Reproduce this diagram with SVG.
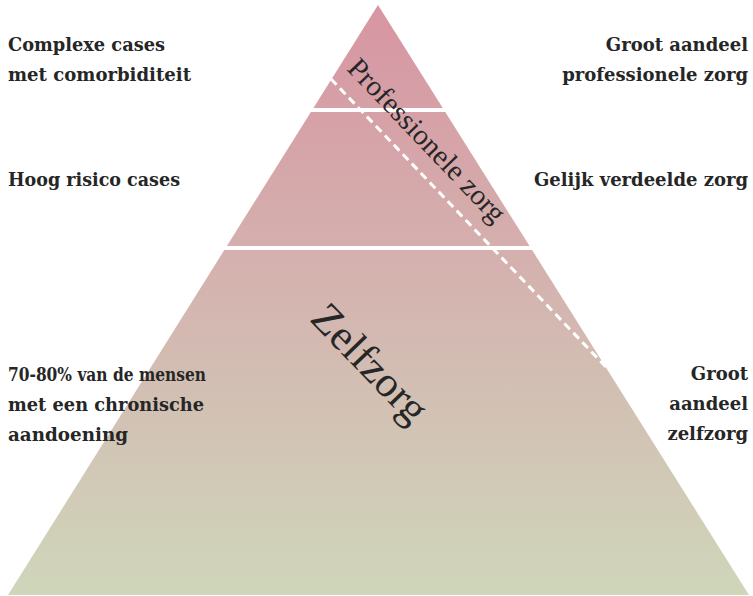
<svg xmlns="http://www.w3.org/2000/svg" width="753" height="596" viewBox="0 0 753 596">
  <defs>
    <linearGradient id="pyr" x1="0" y1="5" x2="0" y2="595" gradientUnits="userSpaceOnUse">
      <stop offset="0" stop-color="#d795a2"/>
      <stop offset="0.5" stop-color="#d4b5b0"/>
      <stop offset="1" stop-color="#cfd6ba"/>
    </linearGradient>
  </defs>
  <style>
    .lbl { font-family: "DejaVu Serif", "Liberation Serif", serif; font-weight: bold; font-size: 18px; fill: #262626; }
    .r { text-anchor: end; }
    .big { font-family: "Liberation Serif", "Times New Roman", serif; fill: #262626; }
    .band { stroke: #ffffff; stroke-width: 4; }
    .dash { stroke: #ffffff; stroke-width: 3; stroke-dasharray: 8 5; fill: none; }
  </style>
  <g id="pyramid">
    <polygon points="378,5 749,595 8,595" fill="url(#pyr)"/>
  </g>
  <g id="connectors">
    <line class="band" x1="300" y1="110" x2="460" y2="110"/>
    <line class="band" x1="220" y1="248" x2="540" y2="248"/>
    <line class="dash" x1="331" y1="79" x2="606" y2="367"/>
  </g>
  <g id="professionele-zorg">
    <text class="big" font-size="29" transform="translate(420,147) rotate(46.3)" text-anchor="middle">Professionele zorg</text>
  </g>
  <g id="zelfzorg">
    <text class="big" font-size="43" transform="translate(360,373) rotate(46)" text-anchor="middle">Zelfzorg</text>
  </g>
  <g id="label-complexe">
    <text class="lbl" x="8" y="51" textLength="157" lengthAdjust="spacingAndGlyphs">Complexe cases</text>
    <text class="lbl" x="8" y="81" textLength="183" lengthAdjust="spacingAndGlyphs">met comorbiditeit</text>
  </g>
  <g id="label-groot-prof">
    <text class="lbl r" x="748" y="51">Groot aandeel</text>
    <text class="lbl r" x="748" y="81">professionele zorg</text>
  </g>
  <g id="label-hoog">
    <text class="lbl" x="8" y="186" textLength="172" lengthAdjust="spacingAndGlyphs">Hoog risico cases</text>
  </g>
  <g id="label-gelijk">
    <text class="lbl r" x="748" y="186">Gelijk verdeelde zorg</text>
  </g>
  <g id="label-7080">
    <text class="lbl" x="8" y="381" textLength="198" lengthAdjust="spacingAndGlyphs">70-80% van de mensen</text>
    <text class="lbl" x="8" y="411" textLength="196" lengthAdjust="spacingAndGlyphs">met een chronische</text>
    <text class="lbl" x="8" y="441" textLength="120" lengthAdjust="spacingAndGlyphs">aandoening</text>
  </g>
  <g id="label-groot-zelf">
    <text class="lbl r" x="748" y="380">Groot</text>
    <text class="lbl r" x="748" y="410">aandeel</text>
    <text class="lbl r" x="748" y="440">zelfzorg</text>
  </g>
</svg>
